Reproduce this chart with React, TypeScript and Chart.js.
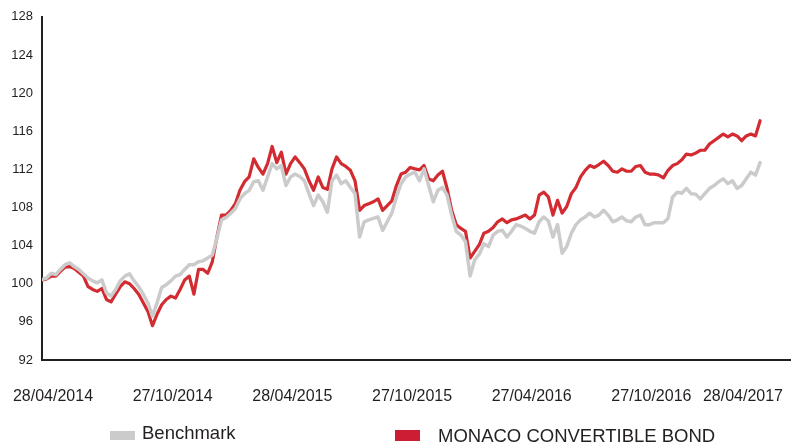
import React, { useEffect, useRef } from "react";
import { Chart, registerables } from "chart.js";

Chart.register(...registerables);

// Weekly observations from 28/04/2014 (week 0) to 28/04/2017 (week 156)
const benchmark: number[] = [
  100.43, 100.6, 101.1, 100.95, 101.5, 102.0, 102.2, 101.8, 101.5, 101.05,
  100.6, 100.3, 100.1, 100.4, 99.05, 98.7, 99.4, 100.3, 100.8, 101.05,
  100.3, 99.7, 98.9, 98.0, 96.6, 98.0, 99.6, 99.9, 100.3, 100.8,
  100.95, 101.5, 102.0, 102.0, 102.3, 102.4, 102.7, 103.0, 104.8, 106.7,
  106.95, 107.4, 107.9, 108.9, 109.45, 109.8, 110.7, 110.8, 109.8, 111.2,
  112.6, 112.05, 112.4, 110.3, 111.2, 111.5, 111.25, 110.8, 109.45, 108.2,
  109.3, 108.6, 107.5, 110.8, 111.4, 110.5, 110.8, 110.1, 109.45, 104.9,
  106.5, 106.7, 106.85, 107.0, 105.6, 106.5, 107.4, 109.1, 110.5, 111.2,
  111.5, 111.7, 110.8, 112.05, 110.3, 108.6, 109.8, 110.1, 109.3, 107.2,
  105.5, 105.1, 104.4, 100.8, 102.5, 103.1, 104.2, 103.9, 105.1, 105.5,
  105.6, 104.9, 105.5, 106.2, 106.05, 105.8, 105.5, 105.3, 106.5, 107.0,
  106.6, 104.9, 106.2, 103.2, 103.9, 105.3, 106.2, 106.7, 107.0, 107.4,
  107.0, 107.2, 107.7, 107.2, 106.5, 106.7, 107.0, 106.6, 106.5, 107.0,
  107.2, 106.2, 106.2, 106.4, 106.4, 106.4, 106.85, 109.1, 109.6, 109.5,
  110.0, 109.45, 109.4, 108.9, 109.45, 110.0, 110.3, 110.7, 111.0, 110.5,
  110.8, 110.0, 110.3, 111.0, 111.7, 111.4, 112.7,
];

const fund: number[] = [
  100.36, 100.5, 100.8, 100.8, 101.3, 101.75, 101.8, 101.6, 101.2, 100.8,
  99.7, 99.4, 99.2, 99.5, 98.35, 98.1, 98.9, 99.7, 100.2, 100.0,
  99.5, 98.9, 98.0, 97.1, 95.6, 96.8, 97.8, 98.35, 98.7, 98.5,
  99.4, 100.4, 100.8, 98.9, 101.5, 101.5, 101.1, 102.3, 104.9, 107.2,
  107.2, 107.7, 108.4, 109.8, 110.7, 111.2, 113.1, 112.2, 111.5, 112.6,
  114.4, 112.7, 113.8, 111.5, 112.6, 113.3, 112.7, 112.05, 110.8, 109.8,
  111.2, 110.1, 109.9, 112.05, 113.3, 112.6, 112.3, 111.9, 110.8, 107.7,
  108.2, 108.4, 108.6, 108.9, 107.7, 108.2, 108.7, 110.3, 111.5, 111.7,
  112.2, 112.05, 111.95, 112.4, 111.0, 110.8, 111.4, 111.8, 110.0, 107.7,
  106.2, 105.8, 105.5, 102.7, 103.4, 104.1, 105.3, 105.5, 105.9, 106.5,
  106.8, 106.4, 106.7, 106.8, 107.0, 107.2, 106.8, 107.2, 109.3, 109.6,
  109.1, 107.2, 108.75, 107.4, 108.1, 109.45, 110.1, 111.2, 111.9, 112.4,
  112.2, 112.5, 112.85, 112.4, 111.8, 111.7, 112.05, 111.8, 111.8, 112.3,
  112.4, 111.7, 111.5, 111.5, 111.4, 111.1, 111.9, 112.4, 112.6, 113.0,
  113.6, 113.5, 113.7, 114.0, 114.0, 114.65, 115.0, 115.35, 115.7, 115.4,
  115.7, 115.5, 115.0, 115.5, 115.7, 115.5, 117.1,
];

const xTickWeeks: number[] = [0, 26, 52, 78, 104, 130, 156];
const xTickLabels: string[] = [
  "28/04/2014",
  "27/10/2014",
  "28/04/2015",
  "27/10/2015",
  "27/04/2016",
  "27/10/2016",
  "28/04/2017",
];
const seriesNames: string[] = ["Benchmark", "MONACO CONVERTIBLE BOND"];

const FONT = '"Liberation Sans", Arial, Helvetica, sans-serif';
const TEXT = "#231f20";
const GREY = "#cbcbcb";
const RED = "#d22b31";
const RED_SWATCH = "#cc1d34";

const overlayPlugin = {
  id: "overlayText",
  afterDraw(chart: any) {
    const { ctx, width, chartArea } = chart;
    const xs = chart.scales.x;
    ctx.save();
    ctx.fillStyle = TEXT;
    ctx.textBaseline = "middle";
    ctx.textAlign = "center";
    ctx.font = `16px ${FONT}`;
    xTickWeeks.forEach((w, k) => {
      const label = xTickLabels[k];
      const tw = ctx.measureText(label).width;
      let cx = xs.getPixelForValue(w) + 11;
      cx = Math.min(cx, width - 20 - tw / 2);
      ctx.fillText(label, cx, chartArea.bottom + 37);
    });

    // legend
    ctx.textAlign = "left";
    ctx.font = `18.5px ${FONT}`;
    const ds = chart.data.datasets;
    ctx.fillStyle = GREY;
    ctx.fillRect(110, 431, 25, 9);
    ctx.fillStyle = TEXT;
    ctx.fillText(ds[0].label, 142, 434);

    ctx.fillStyle = RED_SWATCH;
    ctx.fillRect(395, 430, 25, 11);
    ctx.fillStyle = TEXT;
    ctx.fillText(ds[1].label, 438, 437);
    ctx.restore();
  },
};

export default function App() {
  const ref = useRef<HTMLCanvasElement | null>(null);

  useEffect(() => {
    if (!ref.current) return;
    const toPts = (arr: number[]) => arr.map((v, i) => ({ x: i, y: v }));
    const chart = new Chart(ref.current, {
      type: "line",
      data: {
        datasets: [
          {
            label: seriesNames[0],
            data: toPts(benchmark),
            borderColor: GREY,
            borderWidth: 3.5,
            pointRadius: 0,
            tension: 0,
            borderJoinStyle: "round",
            borderCapStyle: "round",
          },
          {
            label: seriesNames[1],
            data: toPts(fund),
            borderColor: RED,
            borderWidth: 3.2,
            pointRadius: 0,
            tension: 0,
            borderJoinStyle: "round",
            borderCapStyle: "round",
          },
        ],
      },
      options: {
        animation: false,
        responsive: false,
        maintainAspectRatio: false,
        layout: { padding: { top: 15, right: 13, bottom: 0, left: 0 } },
        plugins: {
          legend: { display: false },
          tooltip: { enabled: false },
          title: { display: false },
        },
        scales: {
          x: {
            type: "linear",
            min: 0,
            max: 162.5,
            grid: { display: false, drawTicks: false },
            border: { display: true, color: TEXT, width: 2 },
            ticks: { display: false },
            afterFit: (s: any) => {
              s.height = 86;
            },
          },
          y: {
            min: 92,
            max: 128,
            grid: { display: false, drawTicks: false },
            border: { display: true, color: TEXT, width: 2 },
            ticks: {
              stepSize: 4,
              padding: 9,
              color: TEXT,
              font: { family: FONT, size: 13 },
            },
            afterFit: (s: any) => {
              s.width = 42;
            },
          },
        },
      },
      plugins: [overlayPlugin],
    });
    return () => chart.destroy();
  }, []);

  return (
    <div style={{ position: "absolute", left: 0, top: 0, width: 803, height: 446, background: "#fff" }}>
      <canvas ref={ref} width={803} height={446} style={{ display: "block" }} />
    </div>
  );
}
